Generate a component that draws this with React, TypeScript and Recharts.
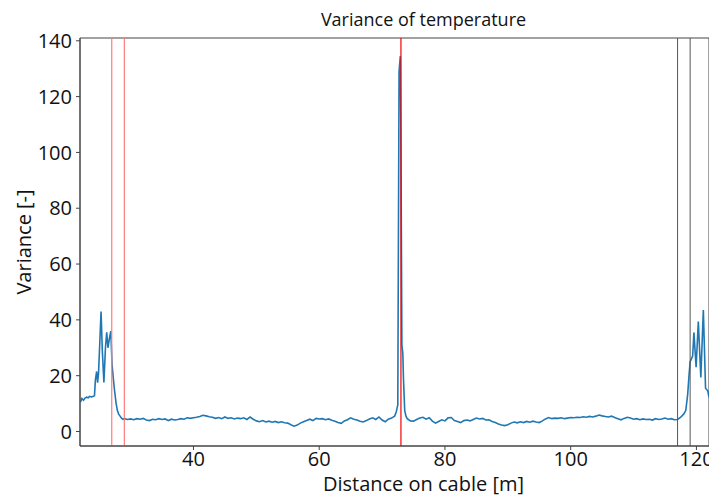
import { LineChart, Line, XAxis, YAxis, ReferenceLine, ReferenceArea } from "recharts";

// distance along the cable [m]
const distance = [
  22.0, 22.25, 22.5, 22.75, 23.0, 23.25, 23.5, 23.75, 24.0, 24.25, 24.4, 24.6, 24.75, 24.9,
  25.1, 25.3, 25.5, 25.75, 26.0, 26.2, 26.4, 26.6, 26.85, 27.05, 27.25, 27.45, 27.7, 27.9,
  28.1, 28.3, 28.55, 28.8, 29.0,
  29.5, 30, 30.5, 31, 31.5, 32, 32.5, 33, 33.5, 34, 34.5, 35, 35.5, 36, 36.5, 37, 37.5, 38,
  38.5, 39, 39.5, 40, 40.5, 41, 41.5, 42, 42.5, 43, 43.5, 44, 44.5, 45, 45.5, 46, 46.5, 47,
  47.5, 48, 48.5, 49, 49.5, 50, 50.5, 51, 51.5, 52, 52.5, 53, 53.5, 54, 54.5, 55, 55.5, 56,
  56.5, 57, 57.5, 58, 58.5, 59, 59.5, 60, 60.5, 61, 61.5, 62, 62.5, 63, 63.5, 64, 64.5, 65,
  65.5, 66, 66.5, 67, 67.5, 68, 68.5, 69, 69.5, 70, 70.5, 71, 71.5, 72, 72.25, 72.5, 72.7,
  72.9, 73.0, 73.15, 73.3, 73.4, 73.6, 73.8, 74.0,
  74.5, 75, 75.5, 76, 76.5, 77, 77.5, 78, 78.5, 79, 79.5, 80, 80.5, 81, 81.5, 82, 82.5, 83,
  83.5, 84, 84.5, 85, 85.5, 86, 86.5, 87, 87.5, 88, 88.5, 89, 89.5, 90, 90.5, 91, 91.5, 92,
  92.5, 93, 93.5, 94, 94.5, 95, 95.5, 96, 96.5, 97, 97.5, 98, 98.5, 99, 99.5, 100, 100.5, 101,
  101.5, 102, 102.5, 103, 103.5, 104, 104.5, 105, 105.5, 106, 106.5, 107, 107.5, 108, 108.5,
  109, 109.5, 110, 110.5, 111, 111.5, 112, 112.5, 113, 113.5, 114, 114.5, 115, 115.5, 116,
  116.5, 117, 117.5, 118, 118.3, 118.6, 118.8, 119.0, 119.2, 119.4, 119.6, 119.95, 120.3,
  120.7, 121.1, 121.45, 121.8, 122.0,
];

// variance of temperature [-]
const variance = [
  10.5, 11.8, 11.2, 12.0, 12.3, 12.1, 12.6, 12.4, 12.5, 12.8, 18.5, 21.5, 17.5, 21.0,
  32, 43, 29, 17.6, 30, 35.5, 30, 33, 36, 24, 19, 14.6, 10, 7.5,
  6.2, 5.6, 4.8, 4.4, 4.6,
  4.3, 4.5, 4.2, 4.6, 4.4, 4.7, 4.1, 3.9, 4.4, 4.2, 4.6, 4.3, 4.5, 3.9, 4.4, 4.1, 4.3, 4.6,
  4.4, 4.9, 4.7, 4.9, 5.1, 5.4, 5.8, 5.6, 5.3, 5.1, 4.7, 5.0, 4.6, 5.2, 4.7, 4.9, 4.5, 4.8,
  4.6, 4.9, 4.3, 5.2, 4.4, 3.8, 3.5, 3.9, 3.4, 3.7, 3.3, 3.6, 3.2, 3.5, 3.1, 3.0, 2.4, 1.9,
  2.3, 3.0, 3.5, 3.9, 4.4, 3.9, 4.7, 4.5, 4.6, 4.2, 4.5, 4.0, 3.7, 3.2, 2.9, 3.8, 4.2, 4.9,
  4.4, 4.1, 3.7, 3.4, 3.9, 4.5, 4.9, 4.3, 5.2, 4.1, 3.5, 4.4, 4.8, 5.5, 7.0, 9.5, 129,
  134.5, 103, 31, 28, 19, 7.5, 5.5, 4.6,
  3.8, 3.7, 4.3, 4.8, 5.1, 4.4, 4.9, 3.7, 3.0, 3.6, 4.2, 3.8, 4.9, 5.0, 3.9, 3.6, 3.2, 3.9,
  4.1, 3.8, 4.3, 4.8, 4.5, 4.7, 4.1, 4.2, 3.6, 3.2, 2.7, 2.3, 2.1, 2.4, 3.0, 3.4, 3.1, 3.5,
  3.2, 3.6, 3.3, 3.7, 3.4, 3.2, 3.8, 4.5, 5.0, 4.6, 4.8, 4.7, 4.9, 4.6, 4.8, 5.0, 4.9, 5.1,
  5.0, 5.3, 5.1, 5.4, 5.2, 5.5, 5.9, 5.6, 5.4, 5.2, 5.5, 5.0, 4.6, 4.2, 4.7,
  5.1, 4.8, 4.4, 4.6, 4.2, 4.5, 4.3, 4.4, 4.1, 4.6, 4.3, 4.5, 4.8, 4.4, 4.6,
  4.2, 4.3, 5.1, 6.3, 7.5, 13, 19.4, 25, 26, 27, 35.5, 23, 39.4,
  19.4, 43.5, 15.5, 14.6, 12.2,
];

const xTicks = [40, 60, 80, 100, 120];
const yTicks = [0, 20, 40, 60, 80, 100, 120, 140];
const pinkLines = [27, 29];
const redLines = [73];
const grayLines = [117, 119];

const X_DOMAIN: [number, number] = [21.95, 122];
const Y_DOMAIN: [number, number] = [-5.2, 141];

const data = distance.map((d, i) => ({ d, v: variance[i] }));

const font = "'Open Sans', 'Noto Sans', sans-serif";

export default function App() {
  return (
    <div style={{ position: "relative", width: 709, height: 492, fontFamily: font }}>
      <div
        style={{
          position: "absolute",
          left: 101,
          width: 629,
          top: 0,
          textAlign: "center",
          fontSize: 18,
          color: "#111",
          lineHeight: "22px",
        }}
      >
        Variance of temperature
      </div>
      <LineChart
        width={709}
        height={492}
        data={data}
        margin={{ top: 30, right: 8, left: 0, bottom: 8 }}
      >
        <XAxis
          dataKey="d"
          type="number"
          domain={X_DOMAIN}
          allowDataOverflow
          ticks={xTicks}
          height={46}
          tickSize={4}
          tickMargin={2}
          stroke="#444"
          tick={{ fontSize: 20, fill: "#111", fontFamily: font }}
          label={{
            value: "Distance on cable [m]",
            position: "insideBottom",
            offset: 1,
            dx: 29,
            style: { fontSize: 20, fill: "#111", fontFamily: font },
          }}
        />
        <YAxis
          type="number"
          domain={Y_DOMAIN}
          allowDataOverflow
          ticks={yTicks}
          width={72}
          tickSize={4}
          tickMargin={4}
          stroke="#444"
          tick={{ fontSize: 20, fill: "#111", fontFamily: font }}
          label={{
            value: "Variance [-]",
            angle: -90,
            position: "center",
            dx: -20,
            style: { fontSize: 20, fill: "#111", fontFamily: font, textAnchor: "middle" },
          }}
        />
        <Line
          type="linear"
          dataKey="v"
          stroke="#1f77b4"
          strokeWidth={1.6}
          dot={false}
          isAnimationActive={false}
        />
        {pinkLines.map((x) => (
          <ReferenceLine key={x} x={x} stroke="#ff7b7b" strokeWidth={1.2} />
        ))}
        {redLines.map((x) => (
          <ReferenceLine key={x} x={x} stroke="#ee0000" strokeWidth={1.2} />
        ))}
        {grayLines.map((x) => (
          <ReferenceLine key={x} x={x} stroke="#555" strokeWidth={1} />
        ))}
        <ReferenceArea
          x1={X_DOMAIN[0]}
          x2={X_DOMAIN[1]}
          y1={Y_DOMAIN[0]}
          y2={Y_DOMAIN[1]}
          fill="none"
          stroke="#444"
          strokeWidth={1}
        />
      </LineChart>
    </div>
  );
}
